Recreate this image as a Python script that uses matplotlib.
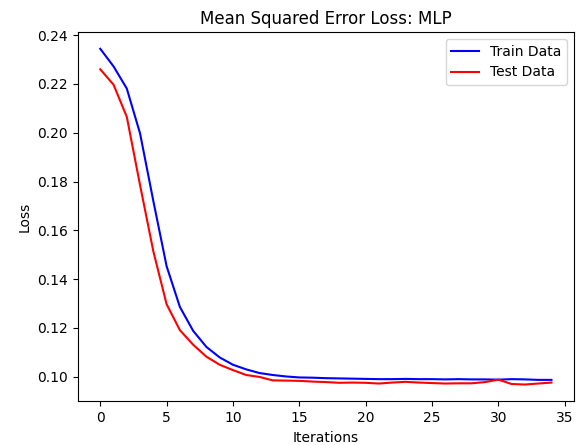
import matplotlib
matplotlib.use("Agg")
import matplotlib.pyplot as plt
import numpy as np

iterations = list(range(35))
train_loss = [0.2344, 0.2272, 0.2181, 0.1997, 0.1720, 0.1453, 0.1286, 0.1188, 0.1122, 0.1079,
              0.1049, 0.1030, 0.1015, 0.1007, 0.1001, 0.0997, 0.0996, 0.0994, 0.0993, 0.0992,
              0.0991, 0.0990, 0.0990, 0.0991, 0.0990, 0.0990, 0.0989, 0.0990, 0.0989, 0.0989,
              0.0988, 0.0990, 0.0989, 0.0987, 0.0987]
test_loss = [0.2260, 0.2197, 0.2065, 0.1785, 0.1514, 0.1297, 0.1191, 0.1131, 0.1082, 0.1049,
             0.1027, 0.1007, 0.0999, 0.0985, 0.0984, 0.0983, 0.0980, 0.0978, 0.0975, 0.0976,
             0.0975, 0.0972, 0.0976, 0.0979, 0.0976, 0.0974, 0.0972, 0.0973, 0.0973, 0.0978,
             0.0988, 0.0970, 0.0968, 0.0972, 0.0976]

fig = plt.figure(figsize=(5.78, 4.45), dpi=100)
ax = fig.add_axes([77.7/578, (445-401.3)/445, (574-77.7)/578, (401.3-32)/445])
ax.plot(iterations, train_loss, color="blue", label="Train Data")
ax.plot(iterations, test_loss, color="red", label="Test Data")
ax.set_title("Mean Squared Error Loss: MLP")
ax.set_xlabel("Iterations")
ax.set_ylabel("Loss")
ax.legend(loc="upper right")
fig.savefig("out.png", dpi=100)
